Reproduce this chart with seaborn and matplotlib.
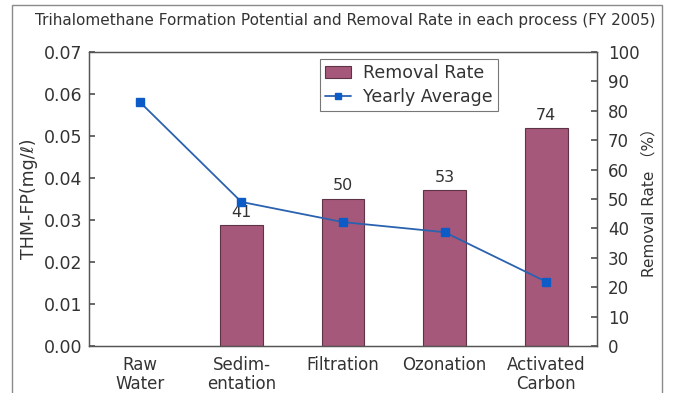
import matplotlib
matplotlib.use("Agg")
import matplotlib.pyplot as plt
import seaborn as sns
import pandas as pd
import numpy as np
from matplotlib.patches import Rectangle, Patch
from matplotlib.lines import Line2D

sns.set_theme(style="white")
plt.rcParams['font.family'] = ['DejaVu Sans', 'Noto Sans CJK JP']

# Process stages
categories = ["Raw\nWater", "Sedim-\nentation", "Filtration", "Ozonation", "Activated\nCarbon"]
# Removal rate (%) per stage; raw water has none
removal_rate = [np.nan, 41, 50, 53, 74]
# Yearly average THM formation potential (mg/l)
thm_fp = [0.0581, 0.0343, 0.0295, 0.0271, 0.0153]

df = pd.DataFrame({"process": categories, "removal": removal_rate, "thm": thm_fp})

text_color = "#333333"
bar_color = "#A6587A"
bar_edge = "#5E3345"
line_color = "#2A62B0"
marker_color = "#0D5BC6"

fig = plt.figure(figsize=(6.74, 3.93), dpi=100)
fig.patch.set_facecolor("white")

# outer frame
fig.add_artist(Rectangle((12 / 674, -0.05), 650 / 674, 1 - 5 / 393 + 0.05,
                         transform=fig.transFigure, fill=False,
                         edgecolor="#8a8a8a", linewidth=1.0))

ax1 = fig.add_axes([89 / 674, 1 - 346 / 393, (597 - 89) / 674, (346 - 52) / 393])
ax2 = ax1.twinx()

# bars on the right (removal rate) axis
sns.barplot(data=df, x="process", y="removal", ax=ax2, color=bar_color,
            width=0.42, edgecolor=bar_edge, linewidth=0.8, saturation=1)
for i, v in enumerate(removal_rate):
    if not np.isnan(v):
        ax2.annotate(f"{v:.0f}", (i, v), xytext=(0, 4), textcoords="offset points",
                     ha="center", va="bottom", fontsize=11.5, color=text_color)

# line on the left (THM-FP) axis, drawn above the bars
ax1.set_zorder(ax2.get_zorder() + 1)
ax1.patch.set_visible(False)
ax1.plot(np.arange(len(categories)), df["thm"], color=line_color, linewidth=1.3,
         marker="s", markersize=6, markerfacecolor=marker_color,
         markeredgecolor=marker_color)

ax1.set_xlim(-0.5, len(categories) - 0.5)
ax1.set_ylim(0, 0.07)
ax1.set_yticks(np.arange(0, 0.0701, 0.01))
ax1.set_yticklabels([f"{t:.2f}" for t in np.arange(0, 0.0701, 0.01)])
ax2.set_ylim(0, 100)
ax2.set_yticks(range(0, 101, 10))

ax1.set_xticks(np.arange(len(categories)))
ax1.set_xticklabels(categories, linespacing=1.1)
ax1.set_xticks(np.arange(0.5, len(categories) - 1, 1.0), minor=True)
ax1.tick_params(axis="x", which="major", length=0, pad=7, labelsize=12, colors=text_color)
ax1.tick_params(axis="x", which="minor", direction="in", length=4, color="#555555")
ax1.tick_params(axis="y", direction="in", length=4, labelsize=12.5, colors=text_color,
                color="#555555", left=True, pad=5)
ax2.tick_params(axis="y", direction="in", length=4, labelsize=12, colors=text_color,
                color="#555555", right=True, pad=8)
ax2.set_xlabel("")
ax1.set_xlabel("")

for ax in (ax1, ax2):
    for s in ax.spines.values():
        s.set_color("#555555")
        s.set_linewidth(0.9)

ax1.set_ylabel("THM-FP(mg/ℓ)", fontsize=12.5, color=text_color, labelpad=4)
ax2.set_ylabel("Removal Rate （%）", fontsize=11, color=text_color, labelpad=1,
               family=['DejaVu Sans', 'Noto Sans CJK JP'])

fig.text(345 / 674, 1 - 20 / 393,
         "Trihalomethane Formation Potential and Removal Rate in each process (FY 2005)",
         ha="center", va="center", fontsize=11, color=text_color)

handles = [Patch(facecolor=bar_color, edgecolor=bar_edge, linewidth=0.8),
           Line2D([0], [0], color=line_color, linewidth=1.3, marker="s", markersize=5,
                  markerfacecolor=marker_color, markeredgecolor=marker_color)]
leg = ax1.legend(handles, ["Removal Rate", "Yearly Average"], loc="upper left",
                 bbox_to_anchor=((320 - 89) / 508, (346 - 59) / 294),
                 fontsize=12.5, frameon=True, fancybox=False, edgecolor="#555555",
                 borderpad=0.3, labelspacing=0.35, handlelength=1.5,
                 handletextpad=0.7, borderaxespad=0)
for t in leg.get_texts():
    t.set_color(text_color)
leg.get_frame().set_linewidth(0.8)

fig.savefig("out.png", dpi=100, facecolor="white")
